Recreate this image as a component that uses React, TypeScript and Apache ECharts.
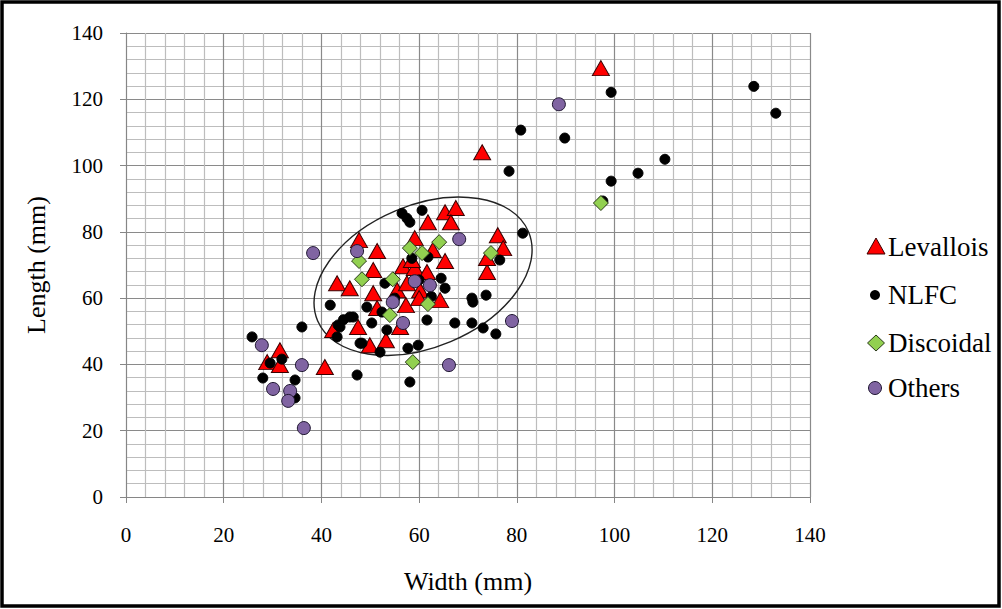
import React, { useEffect, useRef } from "react";
import * as echarts from "echarts";

const xTicks = [0, 20, 40, 60, 80, 100, 120, 140];
const yTicks = [0, 20, 40, 60, 80, 100, 120, 140];

const levallois: number[][] = [
  [97.2, 129.4], [72.9, 104.0], [40.7, 39.2], [31.5, 44.3], [28.9, 40.7], [31.5, 39.8],
  [65.3, 85.9], [67.5, 87.2], [61.8, 82.9], [66.5, 82.9], [47.7, 77.5], [51.4, 74.2],
  [59.1, 78.1], [62.8, 74.5], [65.3, 71.2], [56.7, 69.6], [59.1, 69.1], [61.6, 67.9],
  [50.6, 68.5], [43.2, 64.5], [45.8, 63.0], [50.6, 61.5], [55.5, 62.4], [57.5, 64.5],
  [60.2, 62.4], [64.3, 59.4], [57.3, 57.9], [51.4, 57.0], [47.5, 51.3], [56.1, 51.3],
  [53.2, 47.3], [49.9, 45.8], [76.1, 79.0], [77.2, 75.1], [73.9, 67.9], [73.9, 72.1],
  [42.4, 50.4], [58.5, 71.5], [60.0, 60.0],
];

const nlfc: number[][] = [
  [128.5, 123.9], [133.0, 115.8], [99.3, 122.1], [89.8, 108.3], [80.8, 110.7], [78.4, 98.3],
  [110.3, 101.9], [104.8, 97.7], [99.3, 95.3], [97.6, 89.3], [81.2, 79.6], [76.5, 71.5],
  [56.5, 85.6], [57.5, 84.1], [58.1, 82.9], [60.6, 86.5], [41.8, 57.9], [36.0, 51.3],
  [46.5, 54.3], [43.8, 51.3], [43.2, 48.3], [49.3, 57.3], [50.3, 52.5], [52.4, 55.8],
  [53.4, 50.4], [47.9, 46.4], [52.0, 43.7], [57.7, 44.9], [59.8, 45.8], [61.6, 53.4],
  [67.3, 52.5], [70.8, 52.5], [73.1, 51.0], [75.7, 49.2], [70.8, 60.0], [73.7, 60.9],
  [65.3, 63.0], [53.0, 64.5], [47.3, 36.8], [25.8, 48.3], [28.0, 35.9], [34.6, 35.3],
  [34.6, 29.9], [31.9, 41.6], [29.5, 40.4], [58.1, 34.7], [45.8, 54.3], [48.3, 46.4],
  [71.0, 58.8], [43.4, 51.9], [44.5, 53.5], [60.0, 65.5], [62.5, 60.5], [64.5, 66.0],
  [58.5, 72.0], [55.0, 60.0], [61.8, 72.4],
];

const discoidal: number[][] = [
  [97.2, 88.7], [64.1, 76.9], [58.1, 75.1], [60.6, 73.6], [47.7, 71.2], [48.3, 65.7],
  [54.6, 65.7], [61.8, 58.2], [54.0, 54.9], [58.7, 40.7], [74.7, 73.6],
];

const others: number[][] = [
  [88.6, 118.5], [27.8, 45.8], [36.0, 39.8], [30.1, 32.6], [33.6, 32.0], [33.2, 29.0],
  [36.4, 20.8], [66.1, 39.8], [54.6, 58.8], [56.7, 52.5], [38.3, 73.6], [47.3, 74.2],
  [68.2, 77.8], [62.2, 63.9], [59.1, 65.1], [79.0, 53.1],
];

const ellipseCenter: number[][] = [[60.8, 66.6]];

const seriesNames = ["Levallois", "NLFC", "Discoidal", "Others"];

const FONT = "Liberation Serif";

const RED = "#ff0000";
const BLACK = "#000000";
const GREEN = "#92d050";
const PURPLE = "#8064a2";

export default function App() {
  const ref = useRef<HTMLDivElement>(null);

  useEffect(() => {
    if (!ref.current) return;
    const chart = echarts.init(ref.current, null, { renderer: "svg" });

    const axisCommon = {
      type: "value" as const,
      interval: 20,
      axisLine: { show: true, lineStyle: { color: "#868686", width: 1 } },
      axisTick: { show: true, length: 6, lineStyle: { color: "#868686" } },
      splitLine: { show: true, lineStyle: { color: "#8a8a8a", width: 1.2 } },
      minorTick: { show: false, splitNumber: 5 },
      minorSplitLine: { show: true, lineStyle: { color: "#bdbdbd", width: 1.2 } },
      axisLabel: { color: "#000", fontSize: 21, fontFamily: FONT },
      nameTextStyle: { color: "#000", fontSize: 26, fontFamily: FONT },
    };

    const legendText = (y: number, text: string) => ({
      type: "text",
      silent: true,
      x: 888,
      y,
      style: {
        text,
        fill: "#000",
        font: "normal normal 27px \"Liberation Serif\", \"Times New Roman\", serif",
        fontSize: 27,
        fontFamily: "\"Liberation Serif\", \"Times New Roman\", serif",
        verticalAlign: "middle",
        align: "left",
      },
    });

    chart.setOption({
      animation: false,
      backgroundColor: "#fff",
      textStyle: { fontFamily: FONT },
      grid: { left: 126, top: 33, width: 684, height: 464, containLabel: false },
      xAxis: {
        ...axisCommon,
        min: xTicks[0],
        max: xTicks[xTicks.length - 1],
        axisLabel: { ...axisCommon.axisLabel, margin: 27 },
        name: "Width (mm)",
        nameLocation: "middle",
        nameGap: 71,
      },
      yAxis: {
        ...axisCommon,
        min: yTicks[0],
        max: yTicks[yTicks.length - 1],
        axisLabel: { ...axisCommon.axisLabel, margin: 23 },
        name: "Length (mm)",
        nameLocation: "middle",
        nameGap: 77,
      },
      graphic: [
        {
          type: "rect",
          silent: true,
          shape: { x: 2, y: 2, width: 997, height: 604 },
          style: { fill: "none", stroke: "#000", lineWidth: 3.5 },
        },
        {
          type: "polygon",
          silent: true,
          shape: { points: [[876, 238], [885, 254], [867, 254]] },
          style: { fill: RED, stroke: "#3a0000", lineWidth: 1 },
        },
        legendText(247, seriesNames[0]),
        {
          type: "circle",
          silent: true,
          shape: { cx: 875, cy: 295, r: 5 },
          style: { fill: BLACK },
        },
        legendText(295, seriesNames[1]),
        {
          type: "polygon",
          silent: true,
          shape: { points: [[876, 335], [884.5, 343], [876, 351], [867.5, 343]] },
          style: { fill: GREEN, stroke: "#2a3a1a", lineWidth: 1 },
        },
        legendText(343, seriesNames[2]),
        {
          type: "circle",
          silent: true,
          shape: { cx: 875, cy: 388, r: 6.5 },
          style: { fill: PURPLE, stroke: "#1e1630", lineWidth: 1 },
        },
        legendText(388, seriesNames[3]),
      ],
      series: [
        {
          name: seriesNames[0],
          type: "scatter",
          symbol: "triangle",
          symbolSize: [17, 15],
          data: levallois,
          itemStyle: { color: RED, borderColor: "#3a0000", borderWidth: 1, opacity: 1 },
        },
        {
          name: seriesNames[1],
          type: "scatter",
          symbol: "circle",
          symbolSize: 10,
          data: nlfc,
          itemStyle: { color: BLACK, borderColor: "#000", borderWidth: 1, opacity: 1 },
        },
        {
          name: seriesNames[2],
          type: "scatter",
          symbol: "diamond",
          symbolSize: 15,
          data: discoidal,
          itemStyle: { color: GREEN, borderColor: "#2a3a1a", borderWidth: 1, opacity: 1 },
        },
        {
          name: seriesNames[3],
          type: "scatter",
          symbol: "circle",
          symbolSize: 13,
          data: others,
          itemStyle: { color: PURPLE, borderColor: "#1e1630", borderWidth: 1, opacity: 1 },
        },
        {
          type: "custom",
          silent: true,
          data: ellipseCenter,
          renderItem: (params: any, api: any) => {
            const p = api.coord([api.value(0), api.value(1)]);
            return {
              type: "ellipse",
              x: p[0],
              y: p[1],
              rotation: 0.4,
              shape: { cx: 0, cy: 0, rx: 114.5, ry: 71 },
              style: { fill: "none", stroke: "#222", lineWidth: 1.4 },
            };
          },
          z: 1,
        },
      ],
    });

    return () => chart.dispose();
  }, []);

  return (
    <div
      ref={ref}
      style={{ position: "absolute", left: 0, top: 0, width: 1002, height: 609 }}
    />
  );
}
